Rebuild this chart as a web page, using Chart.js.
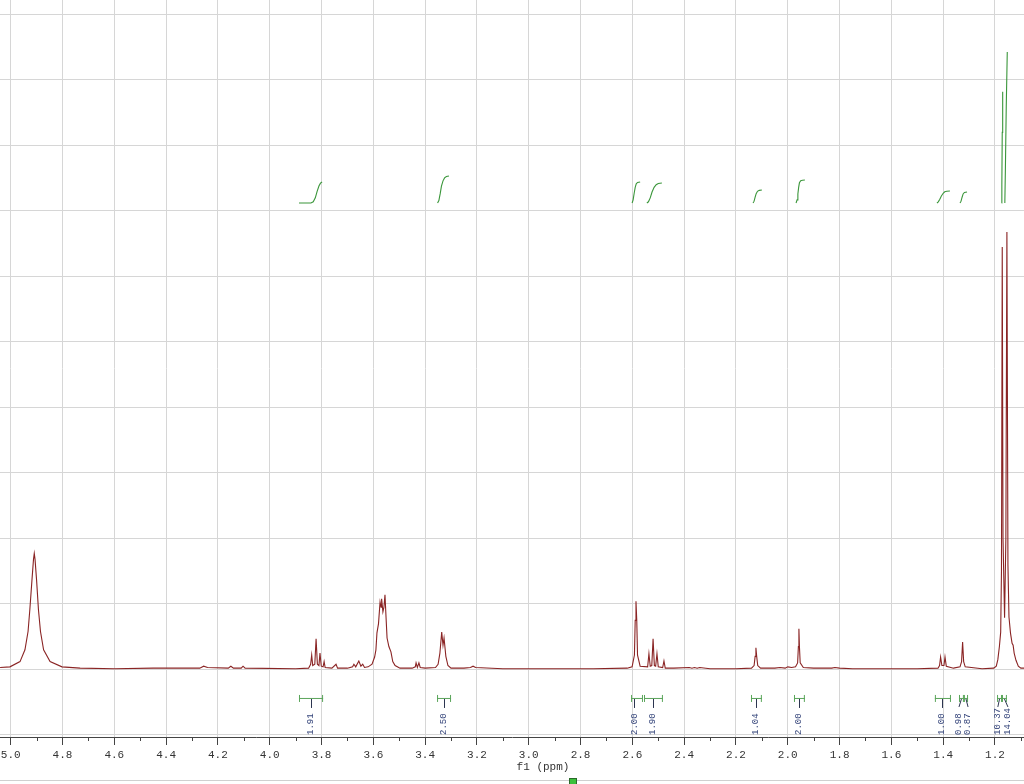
<!DOCTYPE html>
<html><head><meta charset="utf-8">
<script src="https://cdn.jsdelivr.net/npm/chart.js@4.4.1/dist/chart.umd.min.js"></script>
<style>html,body{margin:0;padding:0;background:#fff;}#wrap{width:1024px;height:784px;}</style>
</head><body><div id="wrap"><canvas id="c" width="1024" height="784"></canvas></div>
<script>
// 1H NMR spectrum, chemical shift (ppm) and intensity (grid units)
const specPpm = [5.041,5.003,4.964,4.945,4.933,4.926,4.918,4.912,4.909,4.906,4.900,4.893,4.885,4.873,4.848,4.802,4.732,4.60,4.45,4.27,4.255,4.24,4.16,4.150,4.14,4.11,4.103,4.095,3.90,3.850,3.842,3.838,3.834,3.826,3.821,3.816,3.810,3.806,3.801,3.794,3.790,3.786,3.760,3.744,3.738,3.70,3.680,3.675,3.668,3.656,3.648,3.641,3.634,3.620,3.605,3.595,3.590,3.586,3.580,3.574,3.570,3.568,3.563,3.559,3.555,3.551,3.547,3.540,3.532,3.525,3.516,3.497,3.45,3.438,3.435,3.430,3.424,3.419,3.40,3.360,3.350,3.343,3.336,3.331,3.327,3.320,3.312,3.300,3.25,3.225,3.215,3.205,3.10,2.90,2.75,2.62,2.601,2.592,2.589,2.586,2.583,2.580,2.570,2.541,2.536,2.531,2.525,2.520,2.515,2.510,2.505,2.500,2.483,2.478,2.473,2.44,2.38,2.37,2.36,2.35,2.34,2.30,2.20,2.140,2.130,2.126,2.123,2.120,2.116,2.105,2.05,2.03,2.01,2.00,1.985,1.970,1.962,1.959,1.957,1.955,1.952,1.940,1.90,1.83,1.818,1.80,1.75,1.60,1.50,1.420,1.414,1.410,1.405,1.397,1.393,1.388,1.360,1.335,1.329,1.325,1.321,1.315,1.25,1.205,1.195,1.189,1.183,1.178,1.175,1.172,1.169,1.163,1.158,1.154,1.150,1.146,1.140,1.134,1.130,1.126,1.119,1.110,1.100,1.088];
const specInt = [0.03,0.04,0.12,0.30,0.58,0.92,1.36,1.68,1.77,1.68,1.36,0.92,0.58,0.30,0.12,0.04,0.02,0.01,0.02,0.02,0.05,0.03,0.02,0.05,0.02,0.02,0.05,0.02,0.01,0.02,0.08,0.22,0.06,0.08,0.47,0.08,0.06,0.25,0.05,0.04,0.12,0.03,0.02,0.08,0.02,0.02,0.04,0.08,0.04,0.13,0.05,0.08,0.03,0.04,0.08,0.19,0.30,0.56,0.70,1.03,0.95,1.08,0.88,0.95,1.14,0.80,0.48,0.35,0.27,0.12,0.06,0.02,0.02,0.04,0.10,0.03,0.10,0.03,0.02,0.03,0.08,0.25,0.57,0.37,0.48,0.20,0.06,0.02,0.02,0.03,0.05,0.03,0.01,0.01,0.01,0.02,0.04,0.22,0.75,1.04,0.75,0.22,0.05,0.04,0.24,0.05,0.06,0.47,0.06,0.05,0.24,0.04,0.03,0.13,0.02,0.02,0.03,0.02,0.03,0.02,0.03,0.01,0.01,0.02,0.06,0.20,0.33,0.20,0.06,0.02,0.02,0.03,0.02,0.04,0.03,0.04,0.10,0.35,0.62,0.35,0.10,0.03,0.02,0.02,0.03,0.02,0.01,0.01,0.01,0.02,0.06,0.19,0.06,0.06,0.19,0.05,0.02,0.04,0.12,0.42,0.12,0.04,0.01,0.02,0.05,0.15,0.35,0.57,1.5,6.45,2.0,0.79,2.0,6.68,1.6,0.8,0.55,0.40,0.37,0.25,0.14,0.05,0.02,0.02];

// axis ticks
const majorTicks = [5.0,4.8,4.6,4.4,4.2,4.0,3.8,3.6,3.4,3.2,3.0,2.8,2.6,2.4,2.2,2.0,1.8,1.6,1.4,1.2];
const minorTicks = [4.9,4.7,4.5,4.3,4.1,3.9,3.7,3.5,3.3,3.1,2.9,2.7,2.5,2.3,2.1,1.9,1.7,1.5,1.3,1.1];
const gridRows = [-1,0,1,2,3,4,5,6,7,8,9,10];

// integration regions
const integLabels = ["1.91","2.50","2.00","1.90","1.04","2.00","1.00","0.98","0.87","10.37","14.04"];
const integFrom   = [3.887,3.354,2.605,2.555,2.142,1.976,1.432,1.339,1.320,1.192,1.173];
const integTo     = [3.794,3.300,2.559,2.482,2.100,1.934,1.370,1.320,1.304,1.173,1.154];
const integLabelPpm = [3.841,3.327,2.592,2.520,2.123,1.957,1.405,1.339,1.304,1.189,1.150];

// integral curves (ppm, level in grid units)
const curvePpm = [
  [3.887,3.841,3.832,3.824,3.817,3.810,3.804,3.798],
  [3.352,3.347,3.342,3.337,3.331,3.325,3.318,3.308],
  [2.601,2.597,2.593,2.589,2.585,2.580,2.570],
  [2.544,2.538,2.531,2.524,2.516,2.508,2.500,2.486],
  [2.134,2.130,2.126,2.122,2.117,2.110,2.100],
  [1.968,1.964,1.961,1.958,1.955,1.950,1.943,1.934],
  [1.424,1.419,1.413,1.407,1.400,1.394,1.386,1.374],
  [1.335,1.331,1.327,1.323,1.318,1.308],
  [1.1745,1.1735,1.1720,1.1703],
  [1.1620,1.1600,1.1565,1.1526]
];
const curveY = [
  [7.122,7.122,7.140,7.200,7.300,7.380,7.425,7.443],
  [7.122,7.160,7.260,7.380,7.460,7.505,7.525,7.534],
  [7.122,7.170,7.270,7.360,7.415,7.435,7.443],
  [7.122,7.140,7.200,7.290,7.360,7.400,7.420,7.427],
  [7.122,7.150,7.210,7.265,7.300,7.315,7.321],
  [7.122,7.170,7.260,7.360,7.430,7.462,7.470,7.473],
  [7.122,7.140,7.180,7.230,7.270,7.292,7.302,7.305],
  [7.122,7.150,7.210,7.260,7.282,7.290],
  [7.122,7.40,8.20,8.82],
  [7.122,7.60,8.60,9.427]
];

const isMajor = v => majorTicks.some(m => Math.abs(m - v) < 1e-6);

const datasets = [{
  data: specPpm.map((x, i) => ({x, y: specInt[i]})),
  showLine: true, borderColor: '#8a2424', borderWidth: 1.1, pointRadius: 0, tension: 0, order: 2
}];
curvePpm.forEach((arr, k) => {
  datasets.push({
    data: arr.map((x, i) => ({x, y: curveY[k][i]})),
    showLine: true, borderColor: '#3a963a', borderWidth: 1.1, pointRadius: 0, tension: 0, order: 1
  });
});

const overlay = {
  id: 'overlay',
  afterDraw(chart) {
    const ctx = chart.ctx, xs = chart.scales.x, ys = chart.scales.y;
    const bottom = chart.chartArea.bottom;
    ctx.save();
    // minor ticks
    ctx.strokeStyle = '#444'; ctx.lineWidth = 1;
    minorTicks.forEach(v => {
      const x = Math.round(xs.getPixelForValue(v)) + 0.5;
      ctx.beginPath(); ctx.moveTo(x, bottom); ctx.lineTo(x, bottom + 4); ctx.stroke();
    });
    // integration brackets
    const by = ys.getPixelForValue(-0.435);
    integLabels.forEach((lab, i) => {
      const x1 = xs.getPixelForValue(integFrom[i]);
      const x2 = xs.getPixelForValue(integTo[i]);
      const xl = xs.getPixelForValue(integLabelPpm[i]);
      ctx.strokeStyle = '#5aa55a'; ctx.lineWidth = 1;
      ctx.beginPath();
      ctx.moveTo(x1, by + 0.5); ctx.lineTo(x2, by + 0.5);
      ctx.moveTo(x1 + 0.5, by - 3); ctx.lineTo(x1 + 0.5, by + 4);
      ctx.moveTo(x2 - 0.5, by - 3); ctx.lineTo(x2 - 0.5, by + 4);
      ctx.stroke();
      ctx.strokeStyle = '#2c3550';
      const small = (x2 - x1) < 8;
      ctx.beginPath();
      if (small) { ctx.moveTo((x1 + x2) / 2, by + 1); ctx.lineTo(xl, by + 9); }
      else { const sx = Math.round(xl) + 0.5; ctx.moveTo(sx, by + 1); ctx.lineTo(sx, by + 10); }
      ctx.stroke();
      ctx.save();
      ctx.translate(xl, 735);
      ctx.rotate(-Math.PI / 2);
      ctx.fillStyle = '#34447a';
      ctx.font = '9px "Liberation Mono", monospace';
      ctx.textAlign = 'left'; ctx.textBaseline = 'middle';
      ctx.fillText(lab, 0, 0);
      ctx.restore();
    });
    // axis title
    ctx.fillStyle = '#333';
    ctx.font = '11px "Liberation Mono", monospace';
    ctx.textAlign = 'center'; ctx.textBaseline = 'middle';
    ctx.fillText('f1 (ppm)', xs.getPixelForValue(2.945), 767);
    // bottom line and marker
    ctx.strokeStyle = '#d0d0d0';
    ctx.beginPath(); ctx.moveTo(0, 780.5); ctx.lineTo(1024, 780.5); ctx.stroke();
    ctx.fillStyle = '#3cc03c'; ctx.strokeStyle = '#2a6a2a';
    ctx.fillRect(569, 778, 8, 7); ctx.strokeRect(569.5, 778.5, 7, 7);
    ctx.restore();
  }
};

new Chart(document.getElementById('c'), {
  type: 'scatter',
  data: {datasets},
  options: {
    responsive: false, animation: false, devicePixelRatio: 1,
    layout: {padding: 0, autoPadding: false},
    plugins: {legend: {display: false}, tooltip: {enabled: false}},
    scales: {
      x: {
        type: 'linear', reverse: true, min: 1.088, max: 5.0413,
        afterBuildTicks: s => { s.ticks = majorTicks.concat(minorTicks).sort((a, b) => b - a).map(v => ({value: v})); },
        afterFit: s => { s.height = 47; s.paddingLeft = 0; s.paddingRight = 0; },
        ticks: {
          autoSkip: false, maxRotation: 0, minRotation: 0, padding: 3, color: '#333',
          font: {family: '"Liberation Mono", monospace', size: 11},
          callback: v => isMajor(v) ? v.toFixed(1) : ''
        },
        grid: {
          color: c => (c.tick && isMajor(c.tick.value)) ? '#d6d6d6' : 'rgba(0,0,0,0)',
          tickColor: c => (c.tick && isMajor(c.tick.value)) ? '#444' : 'rgba(0,0,0,0)',
          tickLength: 8, lineWidth: 1
        },
        border: {display: true, color: '#444', width: 1}
      },
      y: {
        type: 'linear', min: -1.031, max: 10.221,
        afterBuildTicks: s => { s.ticks = gridRows.map(v => ({value: v})); },
        afterFit: s => { s.width = 0; },
        ticks: {display: false},
        grid: {color: '#d6d6d6', drawTicks: false, lineWidth: 1},
        border: {display: false}
      }
    }
  },
  plugins: [overlay]
});
</script>
</body></html>
